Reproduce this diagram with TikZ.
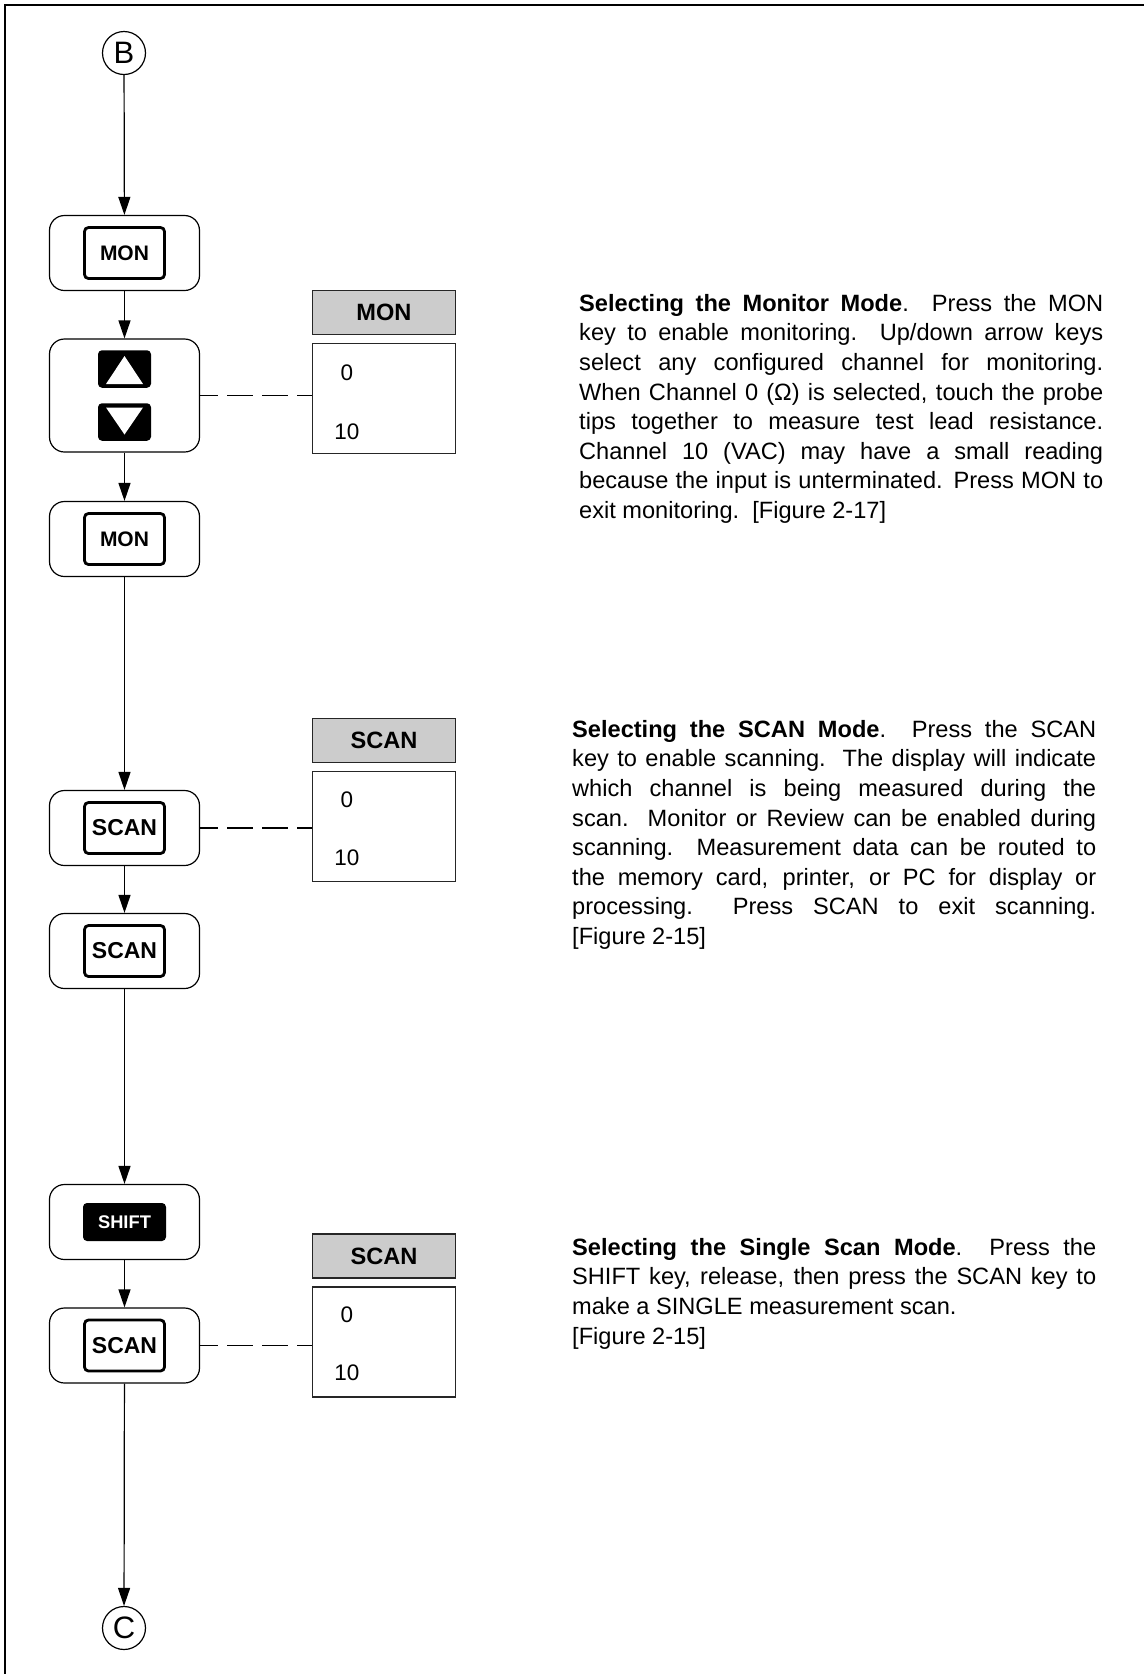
\documentclass[tikz,border=0pt]{standalone}
\usepackage{fontspec}
\setmainfont{Liberation Sans}
\usetikzlibrary{arrows.meta,positioning}

\begin{document}
\begin{tikzpicture}[x=1pt,y=-1pt,
    conector/.style={draw,circle,line width=1.2pt,minimum size=43pt,inner sep=0pt,font=\fontsize{31}{31}\selectfont},
    paso/.style={draw,line width=1.2pt,rounded corners=15pt,minimum width=150pt,minimum height=75pt,inner sep=0pt},
    tecla/.style={draw,line width=2.8pt,rounded corners=4pt,minimum width=80pt,minimum height=51pt,inner sep=0pt},
    tecla negra/.style={fill=black,rounded corners=4pt,inner sep=0pt},
    cabecera/.style={draw=black!85,fill=black!20,line width=1.4pt,minimum width=143pt,minimum height=44pt,inner sep=0pt,font=\bfseries\fontsize{23.6}{24}\selectfont},
    pantalla/.style={draw=black!85,line width=1.4pt,minimum width=143pt,minimum height=110pt,inner sep=0pt},
    canal/.style={inner sep=0pt,font=\fontsize{22.5}{23}\selectfont},
    flecha/.style={-{Triangle[length=18pt,width=12pt]},line width=1.2pt},
    enlace/.style={line width=1.2pt,dash pattern=on 26pt off 9pt,dash phase=8pt},
    parrafo/.style={anchor=north west,text width=524pt,align=justify,inner sep=0pt,font=\fontsize{23.6}{29.6}\selectfont}]
    \useasboundingbox (0,0) rectangle (1144,1674);

    % marco
    \draw[line width=2.4pt] (5,1674) -- (5,5) -- (1144,5);

    % conectores de entrada y salida
    \node[conector] (b) at (124,53) {B};
    \node[conector] (c) at (124,1628) {C};

    % pasos del modo monitor
    \node[paso] (mon1) at (124.5,253) {};
    \node[tecla,font=\bfseries\fontsize{21}{21}\selectfont] (mon1k) at (mon1) {MON};
    \node[paso,minimum height=113pt] (flechas) at (124.5,395.5) {};
    \node[tecla negra,minimum width=53pt,minimum height=37.5pt] (arriba) at ([yshift=26.5pt]flechas.center) {};
    \node[tecla negra,minimum width=53pt,minimum height=37.5pt] (abajo) at ([yshift=-26.5pt]flechas.center) {};
    \fill[white] ([shift={(0,-13)}]arriba.center) -- ([shift={(18.5,15)}]arriba.center) -- ([shift={(-18.5,15)}]arriba.center) -- cycle;
    \fill[white] ([shift={(0,12.5)}]abajo.center) -- ([shift={(18.5,-14.5)}]abajo.center) -- ([shift={(-18.5,-14.5)}]abajo.center) -- cycle;
    \node[paso] (mon2) at (124.5,539) {};
    \node[tecla,font=\bfseries\fontsize{21}{21}\selectfont] (mon2k) at (mon2) {MON};

    % pasos del modo scan
    \node[paso] (scan1) at (124.5,828) {};
    \node[tecla,font=\bfseries\fontsize{23}{23}\selectfont] (scan1k) at (scan1) {SCAN};
    \node[paso] (scan2) at (124.5,951) {};
    \node[tecla,font=\bfseries\fontsize{23}{23}\selectfont] (scan2k) at (scan2) {SCAN};

    % barrido simple
    \node[paso] (shift) at (124.5,1222) {};
    \node[tecla negra,minimum width=83pt,minimum height=38pt,text=white,font=\bfseries\fontsize{18.3}{18.3}\selectfont] (shiftk) at (shift) {SHIFT};
    \node[paso] (scan3) at (124.5,1345.5) {};
    \node[tecla,font=\bfseries\fontsize{23}{23}\selectfont] (scan3k) at (scan3) {SCAN};

    % flechas
    \draw[flecha] (b) -- (mon1);
    \draw[flecha] (mon1) -- (flechas);
    \draw[flecha] (flechas) -- (mon2);
    \draw[flecha] (mon2) -- (scan1);
    \draw[flecha] (scan1) -- (scan2);
    \draw[flecha] (scan2) -- (shift);
    \draw[flecha] (shift) -- (scan3);
    \draw[flecha] (scan3) -- (c);

    % pantallas
    \node[cabecera] (monhead) at (384,312.5) {MON};
    \node[pantalla,below=7.5pt of monhead] (mondisp) {};
    \node[canal] at ([shift={(35,30)}]mondisp.north west) {0};
    \node[canal] at ([shift={(35,89)}]mondisp.north west) {10};

    \node[cabecera] (scanhead) at (384,740.5) {SCAN};
    \node[pantalla,below=7.5pt of scanhead] (scandisp) {};
    \node[canal] at ([shift={(35,29)}]scandisp.north west) {0};
    \node[canal] at ([shift={(35,87)}]scandisp.north west) {10};

    \node[cabecera] (onehead) at (384,1256) {SCAN};
    \node[pantalla,below=7.5pt of onehead] (onedisp) {};
    \node[canal] at ([shift={(35,29)}]onedisp.north west) {0};
    \node[canal] at ([shift={(35,87)}]onedisp.north west) {10};

    % lineas a trazos
    \draw[enlace] (flechas.east) -- (flechas.east -| mondisp.west);
    \draw[enlace] (scan1.east) -- (scan1.east -| scandisp.west);
    \draw[enlace] (scan3.east) -- (scan3.east -| onedisp.west);

    % textos
    \node[parrafo] (txtmon) at (579,294) {\textbf{Selecting the Monitor Mode}.\ \ Press the MON\linebreak
      key to enable monitoring.\ \ Up/down arrow keys\linebreak
      select any configured channel for monitoring.\linebreak
      When Channel 0 (Ω) is selected, touch the probe\linebreak
      tips together to measure test lead resistance.\linebreak
      Channel 10 (VAC) may have a small reading\linebreak
      because the input is unterminated. Press MON to\linebreak
      exit monitoring.\ \ [Figure 2-17]};
    \node[parrafo] (txtscan) at (572,720) {\textbf{Selecting the SCAN Mode}.\ \ Press the SCAN\linebreak
      key to enable scanning.\ \ The display will indicate\linebreak
      which channel is being measured during the\linebreak
      scan.\ \ Monitor or Review can be enabled during\linebreak
      scanning.\ \ Measurement data can be routed to\linebreak
      the memory card, printer, or PC for display or\linebreak
      processing.\ \ Press SCAN to exit scanning.\linebreak{}
      [Figure 2-15]};
    \node[parrafo] (txtone) at (572,1238) {\textbf{Selecting the Single Scan Mode}.\ \ Press the\linebreak
      SHIFT key, release, then press the SCAN key to\linebreak
      make a SINGLE measurement scan.\\{}[Figure 2-15]};
\end{tikzpicture}
\end{document}
